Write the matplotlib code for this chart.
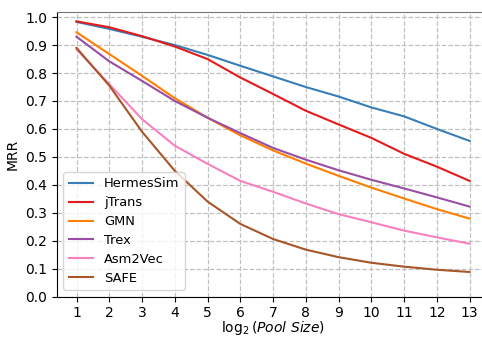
import numpy as np
import matplotlib.pyplot as plt

x = np.arange(1, 14)

hermessim = [0.983, 0.958, 0.930, 0.900, 0.865, 0.826, 0.788, 0.750, 0.716, 0.677, 0.645, 0.600, 0.557]
jtrans = [0.985, 0.964, 0.932, 0.895, 0.850, 0.784, 0.725, 0.665, 0.616, 0.568, 0.511, 0.465, 0.414]
gmn = [0.946, 0.868, 0.790, 0.710, 0.640, 0.577, 0.523, 0.476, 0.432, 0.390, 0.351, 0.313, 0.279]
trex = [0.930, 0.842, 0.772, 0.700, 0.640, 0.585, 0.532, 0.490, 0.452, 0.418, 0.387, 0.355, 0.322]
asm2vec = [0.885, 0.760, 0.635, 0.540, 0.475, 0.414, 0.375, 0.333, 0.295, 0.266, 0.236, 0.212, 0.189]
safe = [0.890, 0.755, 0.590, 0.450, 0.340, 0.260, 0.206, 0.168, 0.141, 0.121, 0.107, 0.096, 0.088]

names = ['HermesSim', 'jTrans', 'GMN', 'Trex', 'Asm2Vec', 'SAFE']
series = [hermessim, jtrans, gmn, trex, asm2vec, safe]
colors = ['#377eb8', '#e41a1c', '#ff7f00', '#984ea3', '#f781bf', '#a65628']

fig = plt.figure(figsize=(4.82, 3.37), dpi=100)
ax = fig.add_axes([0.118, 0.12, 0.897, 0.844])

for name, vals, c in zip(names, series, colors):
    ax.plot(x, vals, color=c, lw=1.5, label=name)

ax.set_xlim(0.4, 13.6)
ax.set_ylim(0, 1.018)
ax.set_xticks(x)
ax.set_yticks(np.arange(0, 1.01, 0.1))
ax.grid(True, ls='--', color='#c0c0c0', lw=0.9)
ax.set_axisbelow(True)
ax.spines['top'].set_color('#777777')
ax.spines['right'].set_visible(False)
ax.tick_params(labelsize=10)
ax.set_ylabel('MRR', fontsize=10)
ax.set_xlabel(r'$\log_2$($\it{Pool\ Size}$)', fontsize=10, labelpad=-1)
ax.legend(loc='lower left', fontsize=9.4, handlelength=1.9, labelspacing=0.45)

fig.savefig('out.png', dpi=100)
